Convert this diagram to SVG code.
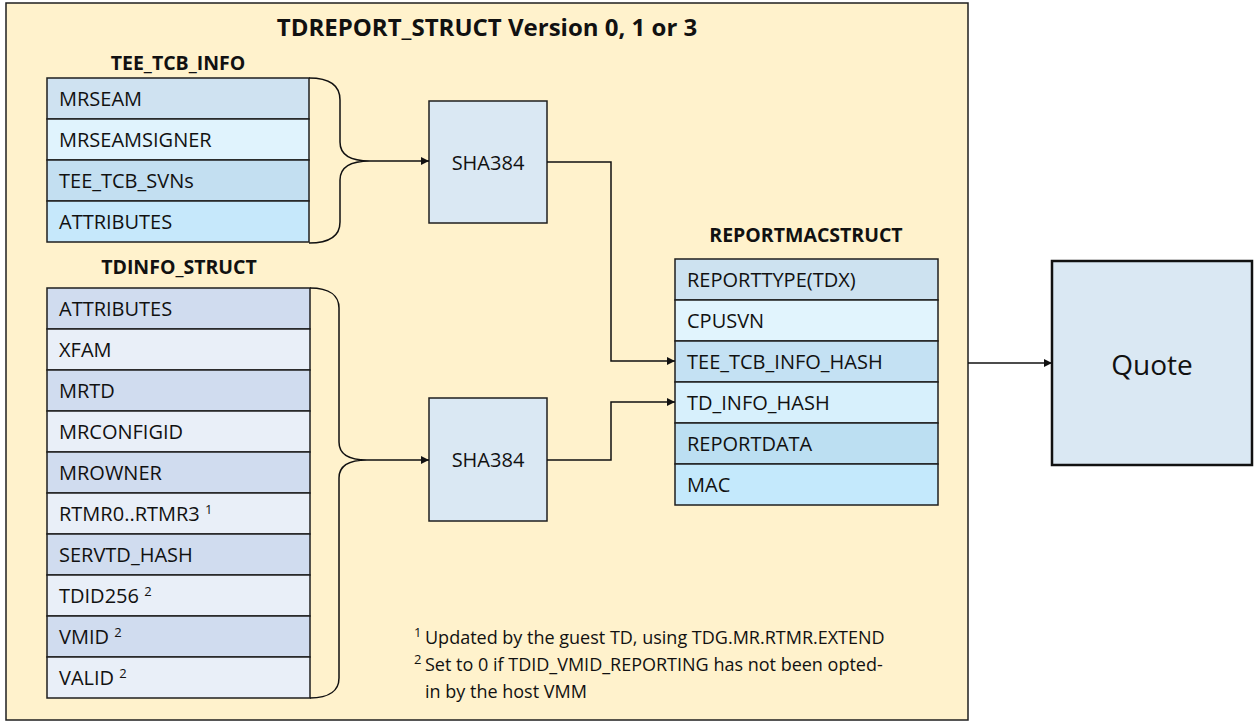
<svg xmlns="http://www.w3.org/2000/svg" width="1255" height="722" viewBox="0 0 1255 722">
<defs>
<style>
text{font-family:"Open Sans","Noto Sans",sans-serif;fill:#111}
.t{font-size:20px}
.h{font-size:19.5px;font-weight:bold;text-anchor:middle}
.title{font-size:24px;font-weight:bold;text-anchor:middle}
.sup{font-size:13px}
.fn{font-size:18px}
.row{stroke:#1f1f1f;stroke-width:1.5}
.box{fill:#dae8f3;stroke:#1f1f1f;stroke-width:1.5}
.c{fill:none;stroke:#111;stroke-width:1.5}
.ca{fill:none;stroke:#111;stroke-width:1.5;marker-end:url(#ah)}
</style>
<marker id="ah" viewBox="0 0 10 10" refX="10" refY="5" markerWidth="10" markerHeight="8" markerUnits="userSpaceOnUse" orient="auto">
<path d="M0,0 L10,5 L0,10 z" fill="#111"/>
</marker>
</defs>
<rect width="1255" height="722" fill="#ffffff"/>
<g id="frame">
<rect x="6" y="3" width="962" height="717" fill="#fff2cc" stroke="#1f1f1f" stroke-width="1.5"/>
<text class="title" x="487" y="36">TDREPORT_STRUCT Version 0, 1 or 3</text>
</g>
<g id="tee_tcb_info">
<text class="h" x="178" y="70">TEE_TCB_INFO</text>
<rect class="row" x="47" y="78" width="262" height="41" fill="#cfe2f1"/>
<rect class="row" x="47" y="119" width="262" height="41" fill="#e0f3fd"/>
<rect class="row" x="47" y="160" width="262" height="41" fill="#c3dff1"/>
<rect class="row" x="47" y="201" width="262" height="41" fill="#c6e8fb"/>
<text class="t" x="59" y="106">MRSEAM</text>
<text class="t" x="59" y="147">MRSEAMSIGNER</text>
<text class="t" x="59" y="188">TEE_TCB_SVNs</text>
<text class="t" x="59" y="229">ATTRIBUTES</text>
</g>
<g id="tdinfo_struct">
<text class="h" x="179" y="274">TDINFO_STRUCT</text>
<rect class="row" x="47" y="288" width="263" height="41" fill="#d0dcef"/>
<rect class="row" x="47" y="329" width="263" height="41" fill="#e9eff8"/>
<rect class="row" x="47" y="370" width="263" height="41" fill="#d0dcef"/>
<rect class="row" x="47" y="411" width="263" height="41" fill="#e9eff8"/>
<rect class="row" x="47" y="452" width="263" height="41" fill="#d0dcef"/>
<rect class="row" x="47" y="493" width="263" height="41" fill="#e9eff8"/>
<rect class="row" x="47" y="534" width="263" height="41" fill="#d0dcef"/>
<rect class="row" x="47" y="575" width="263" height="41" fill="#e9eff8"/>
<rect class="row" x="47" y="616" width="263" height="41" fill="#d0dcef"/>
<rect class="row" x="47" y="657" width="263" height="41" fill="#e9eff8"/>
<text class="t" x="59" y="316">ATTRIBUTES</text>
<text class="t" x="59" y="357">XFAM</text>
<text class="t" x="59" y="398">MRTD</text>
<text class="t" x="59" y="439">MRCONFIGID</text>
<text class="t" x="59" y="480">MROWNER</text>
<text class="t" x="59" y="521">RTMR0..RTMR3 <tspan class="sup" dy="-7">1</tspan></text>
<text class="t" x="59" y="562">SERVTD_HASH</text>
<text class="t" x="59" y="603">TDID256 <tspan class="sup" dy="-7">2</tspan></text>
<text class="t" x="59" y="644">VMID <tspan class="sup" dy="-7">2</tspan></text>
<text class="t" x="59" y="685">VALID <tspan class="sup" dy="-7">2</tspan></text>
</g>
<g id="sha384_1">
<rect class="box" x="429" y="101" width="118" height="122"/>
<text class="t" x="488" y="170" text-anchor="middle">SHA384</text>
</g>
<g id="sha384_2">
<rect class="box" x="429" y="398" width="118" height="123"/>
<text class="t" x="488" y="467" text-anchor="middle">SHA384</text>
</g>
<g id="reportmacstruct">
<text class="h" x="806" y="242">REPORTMACSTRUCT</text>
<rect class="row" x="675" y="259" width="263" height="41" fill="#cde2f0"/>
<rect class="row" x="675" y="300" width="263" height="41" fill="#e1f4fd"/>
<rect class="row" x="675" y="341" width="263" height="41" fill="#c4e1f3"/>
<rect class="row" x="675" y="382" width="263" height="41" fill="#d7f0fc"/>
<rect class="row" x="675" y="423" width="263" height="41" fill="#bcdff2"/>
<rect class="row" x="675" y="464" width="263" height="41" fill="#c4e9fc"/>
<text class="t" x="687" y="287">REPORTTYPE(TDX)</text>
<text class="t" x="687" y="328">CPUSVN</text>
<text class="t" x="687" y="369">TEE_TCB_INFO_HASH</text>
<text class="t" x="687" y="410">TD_INFO_HASH</text>
<text class="t" x="687" y="451">REPORTDATA</text>
<text class="t" x="687" y="492">MAC</text>
</g>
<g id="quote">
<rect x="1052" y="261" width="200" height="204" fill="#dae8f3" stroke="#111" stroke-width="2.5"/>
<text x="1152" y="375" font-size="28" text-anchor="middle">Quote</text>
</g>
<g id="footnotes">
<text class="fn" x="414" y="644"><tspan class="sup" dy="-7">1</tspan><tspan x="425" dy="7">Updated by the guest TD, using TDG.MR.RTMR.EXTEND</tspan></text>
<text class="fn" x="414" y="671"><tspan class="sup" dy="-7">2</tspan><tspan x="425" dy="7">Set to 0 if TDID_VMID_REPORTING has not been opted-</tspan></text>
<text class="fn" x="425" y="698">in by the host VMM</text>
</g>
<g id="connectors">
<path class="c" d="M309,78 C330,78 340,86 340,100 L340,142 C340,154 350,161 370,161 C350,161 340,168 340,180 L340,222 C340,236 330,243 309,243"/>
<path class="ca" d="M370,161 L429,161"/>
<path class="c" d="M310,288 C330,288 339,296 339,308 L339,442 C339,454 349,460 367,460 C349,460 339,466 339,478 L339,678 C339,690 330,698 310,698"/>
<path class="ca" d="M367,460 L429,460"/>
<path class="ca" d="M547,162 L611,162 L611,361 L675,361"/>
<path class="ca" d="M547,460 L611,460 L611,402 L675,402"/>
<path class="ca" d="M968,363 L1052,363"/>
</g>
</svg>
